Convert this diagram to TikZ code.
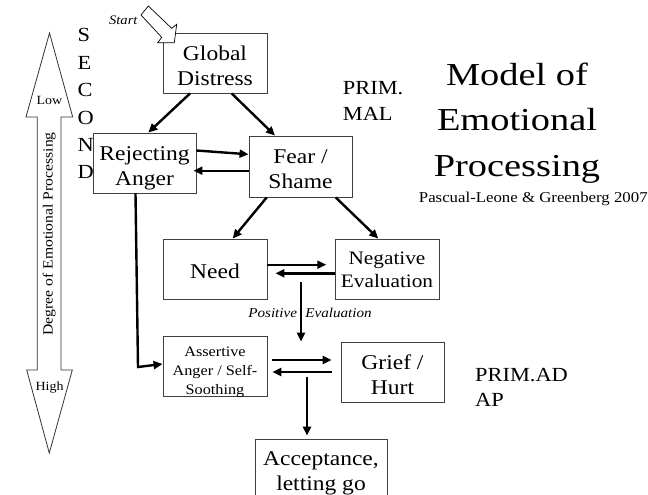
\documentclass[tikz,border=0pt]{standalone}
\usepackage{fontspec}
\setmainfont[FakeStretch=1.12]{Liberation Serif}
\newfontfamily\titlefont[FakeStretch=1.2]{Liberation Serif}
\usetikzlibrary{arrows.meta,calc}
\newcommand{\fsz}[2]{\fontsize{#1}{#2}\selectfont}
\begin{document}
\begin{tikzpicture}[x=1pt,y=-1pt,
  box/.style={draw=black!75, line width=0.9pt, fill=white, inner sep=0pt, align=center,
     minimum width=104pt, minimum height=60pt, font=\fsz{21}{25}, text height=44pt, text depth=0pt},
  arr/.style={line width=2.4pt, -{Triangle[length=9pt,width=8pt]}},
  lbl/.style={inner sep=0pt, anchor=base},
  blockarrow/.style={fill=white, draw=black!80, line width=0.8pt, line join=miter},
]
\clip (0,0) rectangle (648,495);
\fill[white] (0,0) rectangle (648,495);

% left double arrow
\draw[blockarrow] (49.5,33) -- (72.7,117) -- (61,117) -- (61,370) -- (72.3,370) -- (49.3,453)
   -- (26.7,370) -- (37.3,370) -- (37.3,117) -- (26,117) -- cycle;
\node[lbl, font=\fsz{12.5}{15}] (low) at (49.5,104) {Low};
\node[lbl, font=\fsz{12.5}{15}] (high) at (49.5,390) {High};
\node[inner sep=0pt, rotate=90, font=\fsz{14}{16}] (deg) at (49.3,234) {Degree of Emotional Processing};

% SECOND
\foreach \l/\y [count=\i] in {S/41.7,E/69.3,C/96.7,O/124,N/151.7,D/178.3}
  \node[lbl, anchor=base west, font=\fsz{20}{24}] (sec\i) at (77.3,\y) {\l};

% boxes
\node[box, text height=45.4pt] (glob) at (215,63) {Global\\Distress};
\node[box, minimum width=103pt] (rej) at (144.5,163) {Rejecting\\Anger};
\node[box, minimum width=103pt, minimum height=61pt, text height=43.6pt] (fear) at (300.5,166.5) {Fear /\\Shame};
\node[box, text height=18pt] (need) at (215,269) {Need};
\node[box, font=\fsz{19}{23}, text height=36pt] (neg) at (387,269) {Negative\\Evaluation};
\node[box, font=\fsz{14.5}{19}, text height=56pt] (assert) at (215,366) {Assertive\\Anger / Self-\\Soothing};
\node[box, minimum width=103pt] (grief) at (392.5,372) {Grief /\\Hurt};
\node[box, minimum width=132pt, text height=42pt] (acc) at (321,469) {Acceptance,\\letting go};

% start arrow
\draw[fill=white, draw=black, line width=0.7pt] (148.3,6) -- (171.7,28.3) -- (176.7,24.3) -- (174.3,42.7)
   -- (157.7,42.7) -- (161.7,37.3) -- (141,15) -- cycle;
\node[lbl, font=\itshape\fsz{13}{15}] (start) at (123.3,24.5) {Start};

% labels
\node[lbl, anchor=base west, font=\fsz{20}{24}] (p1) at (342.7,94.3) {PRIM.};
\node[lbl, anchor=base west, font=\fsz{20}{24}] (p2) at (342.7,120) {MAL};
\node[lbl, anchor=base west, font=\fsz{20}{24}] (q1) at (475,381.7) {PRIM.AD};
\node[lbl, anchor=base west, font=\fsz{20}{24}] (q2) at (475,406) {AP};

\node[lbl, font=\titlefont\fsz{32}{40}] (t1) at (517,85) {Model of};
\node[lbl, font=\titlefont\fsz{32}{40}] (t2) at (517,130.7) {Emotional};
\node[lbl, font=\titlefont\fsz{32}{40}] (t3) at (517,176.7) {Processing};
\node[lbl, font=\fsz{15}{18}] (cite) at (533.3,202.5) {Pascual-Leone \& Greenberg 2007};

\node[lbl, font=\itshape\fsz{13.5}{16}] (pel) at (310,317.3) {Positive\hspace{4.5pt} Evaluation};

% connectors
\coordinate (pe) at (301,281.7);
\coordinate (rc) at (138,367);
\coordinate (jn) at (307,377);

\draw[arr] ($(glob.south)+(-25,0)$) -- ($(rej.north)+(3.8,0)$);
\draw[arr] ($(glob.south)+(16.7,0)$) -- ($(fear.north)+(-25.5,0)$);
\draw[arr] ($(rej.east)+(0,-12.5)$) -- ($(fear.west)+(0,-12.2)$);
\draw[arr, shorten >=-3pt] ($(fear.west)+(0,4.2)$) -- ($(rej.east |- fear.west)+(0,4.2)$);
\draw[arr] ($(fear.south)+(-33.8,0)$) -- ($(need.north)+(17.7,0)$);
\draw[arr] ($(fear.south)+(35.2,0)$) -- ($(neg.north)+(-8.7,0)$);
\draw[arr, shorten >=8.3pt] ($(need.east)+(0,-4.3)$) -- ($(neg.west |- need.east)+(0,-4.3)$);
\draw[arr, shorten >=8pt] ($(neg.west)+(0,4.3)$) -- ($(need.east |- neg.west)+(0,4.3)$);
\draw[arr] (pe) -- (pe |- grief.north);
\draw[arr] ($(rej.south)+(-9,0)$) -- (rc) -- ($(assert.west)+(0,-2)$);
\draw[arr, shorten <=4.5pt, shorten >=9pt] ($(assert.east)+(0,-6)$) -- ($(grief.west |- assert.east)+(0,-6)$);
\draw[arr, shorten <=9pt, shorten >=5pt] (grief.west) -- (assert.east |- grief.west);
\draw[arr, shorten >=3pt] (jn) -- (jn |- acc.north);
\end{tikzpicture}
\end{document}
